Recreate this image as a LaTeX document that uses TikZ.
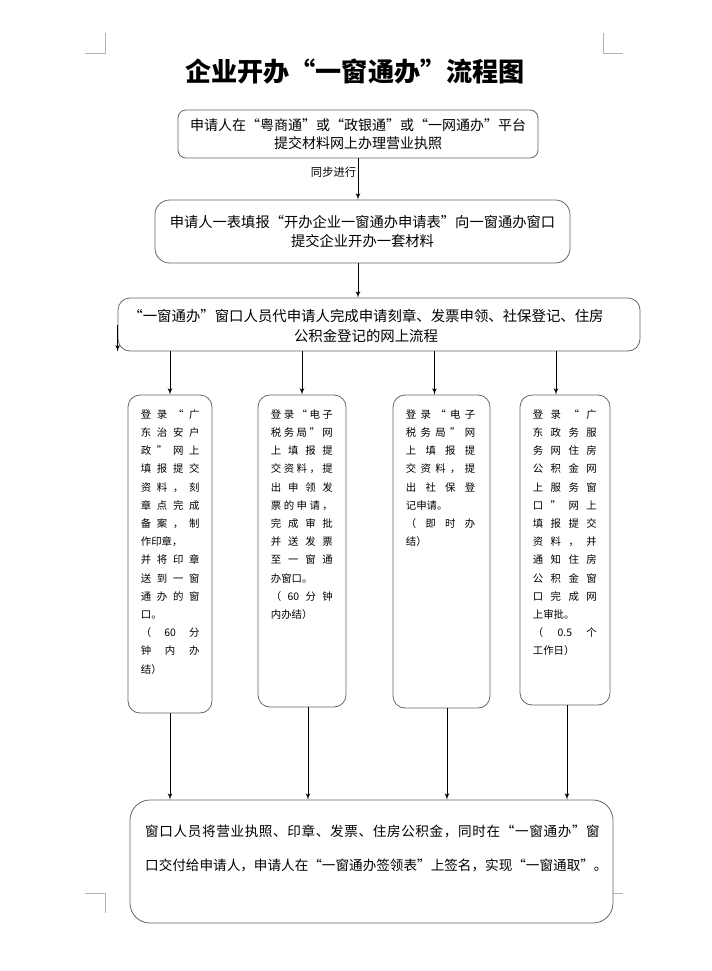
\documentclass[tikz,border=0pt]{standalone}
\usepackage{fontspec}
\setmainfont{Noto Sans CJK SC}
\usetikzlibrary{arrows,positioning,calc}
% spread the characters of one line over the column
\def\sprfirst#1{#1\sprnext}
\def\sprnext#1{\ifx\relax#1\else\hfil#1\expandafter\sprnext\fi}
\newcommand\sline[1]{\leavevmode\hbox to \hsize{\sprfirst#1\relax}}
\newcommand\nline[1]{\leavevmode\hbox to \hsize{#1\hfil}}

\begin{document}
\begin{tikzpicture}[x=0.75pt,y=-0.75pt,>=latex',
  flowbox/.style={draw=black!60,line width=0.6pt,rounded corners=#1,fill=white,align=center,inner sep=0pt},
  flowbox/.default=6pt,
  coltext/.style={anchor=north west,inner sep=0pt,align=left,font=\fontsize{7.8}{13.65}\selectfont},
  crop/.style={draw=black!30,line width=0.5pt},
  link/.style={->,line width=0.6pt}]
            \useasboundingbox (0,0) rectangle (712,971);
            % crop marks
            \draw [crop] (85,53) -- (105,53) -- (105,33);
            \draw [crop] (623,53) -- (603,53) -- (603,33);
            \draw [crop] (85,893) -- (105,893) -- (105,913);
            \draw [crop] (623,893) -- (603,893) -- (603,913);
            \node (title) at (355,72) {\fontsize{19.6}{23}\selectfont\bfseries 企业开办“一窗通办”流程图};
            \node [flowbox=6pt,minimum width=270pt,minimum height=36pt,font=\fontsize{10.5}{13.5}\selectfont] (apply) at (358,134) {申请人在“粤商通”或“政银通”或“一网通办”平台\\提交材料网上办理营业执照};
            \node [flowbox=11pt,minimum width=311.25pt,minimum height=47.25pt,font=\fontsize{10.7}{14.25}\selectfont] (onewin) at (362.5,231.5) {申请人一表填报“开办企业一窗通办申请表”向一窗通办窗口\\提交企业开办一套材料};
            \node [flowbox=9pt,minimum width=391.5pt,minimum height=39.75pt] (agent) at (379,324.5) {};
            \node [align=center,inner sep=0pt,font=\fontsize{10.8}{15}\selectfont] (agenttext) at (366,325.5) {“一窗通办”窗口人员代申请人完成申请刻章、发票申领、社保登记、住房\\公积金登记的网上流程};
            % four parallel online steps
            \node [flowbox=9pt,minimum width=63pt,minimum height=238.5pt] (police) at (170,554) {};
            \node [flowbox=9pt,minimum width=66pt,minimum height=234pt] (invoice) at (302,551) {};
            \node [flowbox=9pt,minimum width=72.75pt,minimum height=234.75pt] (social) at (441.5,551.5) {};
            \node [flowbox=9pt,minimum width=67.5pt,minimum height=232.5pt] (fund) at (565,550) {};
            \node [coltext,text width=44pt] (policetext) at ([xshift=9.75pt,yshift=-11pt]police.north west) {\sline{登录“广}\\\sline{东治安户}\\\sline{政”网上}\\\sline{填报提交}\\\sline{资料，刻}\\\sline{章点完成}\\\sline{备案，制}\\\nline{作印章，}\\\sline{并将印章}\\\sline{送到一窗}\\\sline{通办的窗}\\\nline{口。}\\\sline{（{60}分}\\\sline{钟内办}\\\nline{结）}};
            \node [coltext,text width=46.5pt] (invoicetext) at ([xshift=9.75pt,yshift=-11pt]invoice.north west) {\sline{登录“电子}\\\sline{税务局”网}\\\sline{上填报提}\\\sline{交资料，提}\\\sline{出申领发}\\\sline{票的申请，}\\\sline{完成审批}\\\sline{并送发票}\\\sline{至一窗通}\\\nline{办窗口。}\\\sline{（{60}分钟}\\\nline{内办结）}};
            \node [coltext,text width=52pt] (socialtext) at ([xshift=9.75pt,yshift=-11pt]social.north west) {\sline{登录“电子}\\\sline{税务局”网}\\\sline{上填报提}\\\sline{交资料，提}\\\sline{出社保登}\\\nline{记申请。}\\\sline{（即时办}\\\nline{结）}};
            \node [coltext,text width=48pt] (fundtext) at ([xshift=9.75pt,yshift=-11pt]fund.north west) {\sline{登录“广}\\\sline{东政务服}\\\sline{务网住房}\\\sline{公积金网}\\\sline{上服务窗}\\\sline{口”网上}\\\sline{填报提交}\\\sline{资料，并}\\\sline{通知住房}\\\sline{公积金窗}\\\sline{口完成网}\\\nline{上审批。}\\\sline{（{0.5}个}\\\nline{工作日）}};
            \node [flowbox=15pt,minimum width=362.25pt,minimum height=92.25pt] (handover) at (371.5,861.5) {};
            \node [align=left,inner sep=0pt,text width=341pt,font=\fontsize{10.2}{26}\selectfont] (handovertext) at (372.5,848.5) {\sline{窗口人员将营业执照、印章、发票、住房公积金，同时在“一窗通办”窗}\\\nline{口交付给申请人，申请人在“一窗通办签领表”上签名，实现“一窗通取”。}};
            % connectors
            \draw [link] (apply.south) -- (apply.south |- onewin.north) node [pos=0.33,left,inner sep=1pt,font=\fontsize{8.5}{10}\selectfont] (sync) {同步进行};
            \draw [link] (apply.south |- onewin.south) -- (apply.south |- agent.north);
            \draw [link] (agent.west) -- (agent.south west);
            \draw [link] (police.north |- agent.south) -- (police.north);
            \draw [link] (invoice.north |- agent.south) -- (invoice.north);
            \draw [link] ([xshift=-5.25pt]social.north |- agent.south) -- ([xshift=-5.25pt]social.north);
            \draw [link] ([xshift=-6.75pt]fund.north |- agent.south) -- ([xshift=-6.75pt]fund.north);
            \draw [link] (police.south) -- (police.south |- handover.north);
            \draw [link] ([xshift=4.5pt]invoice.south) -- ([xshift=4.5pt]invoice.south |- handover.north);
            \draw [link] ([xshift=4.1pt]social.south) -- ([xshift=4.1pt]social.south |- handover.north);
            \draw [link] ([xshift=1.5pt]fund.south) -- ([xshift=1.5pt]fund.south |- handover.north);
\end{tikzpicture}
\end{document}
